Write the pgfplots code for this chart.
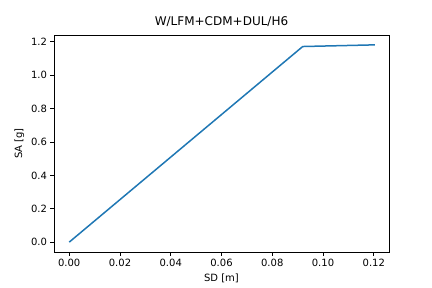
\documentclass[border=0pt]{standalone}
\usepackage{pgfplots}
\pgfplotsset{compat=1.18}
\usepackage{fontspec}
\setmainfont{DejaVu Sans}
\definecolor{c0}{HTML}{1F77B4}
\begin{document}
\begin{tikzpicture}
\begin{axis}[
  name=ax,
  at={(0,0)}, anchor=south west,
  scale only axis, width=335pt, height=217pt,
  xmin=-0.006, xmax=0.126, ymin=-0.0591, ymax=1.2411,
  xtick={0,0.02,0.04,0.06,0.08,0.10,0.12},
  ytick={0,0.2,0.4,0.6,0.8,1.0,1.2},
  xticklabel style={/pgf/number format/.cd,fixed,fixed zerofill,precision=2},
  yticklabel style={/pgf/number format/.cd,fixed,fixed zerofill,precision=1},
  /pgf/number format/assume math mode=true,
  tick align=outside, tick pos=left,
  major tick length=3.5pt,
  tick style={black, line width=0.8pt},
  axis line style={line width=0.8pt},
  ticklabel style={font=\fontsize{10}{12}\selectfont},
  label style={font=\fontsize{10}{12}\selectfont},
  title style={font=\fontsize{12}{14}\selectfont, yshift=-1pt},
  title={W/LFM+CDM+DUL/H6},
  xlabel={SD [m]}, ylabel={SA [g]},
  scaled x ticks=false,
]
\addplot[c0, line width=1.5pt] coordinates {(0,0) (0.092,1.172) (0.1204,1.182)};
\end{axis}
\path[use as bounding box] ([shift={(-54pt,-36pt)}]ax.south west) rectangle ([shift={(43pt,35pt)}]ax.north east);
\end{tikzpicture}
\end{document}
